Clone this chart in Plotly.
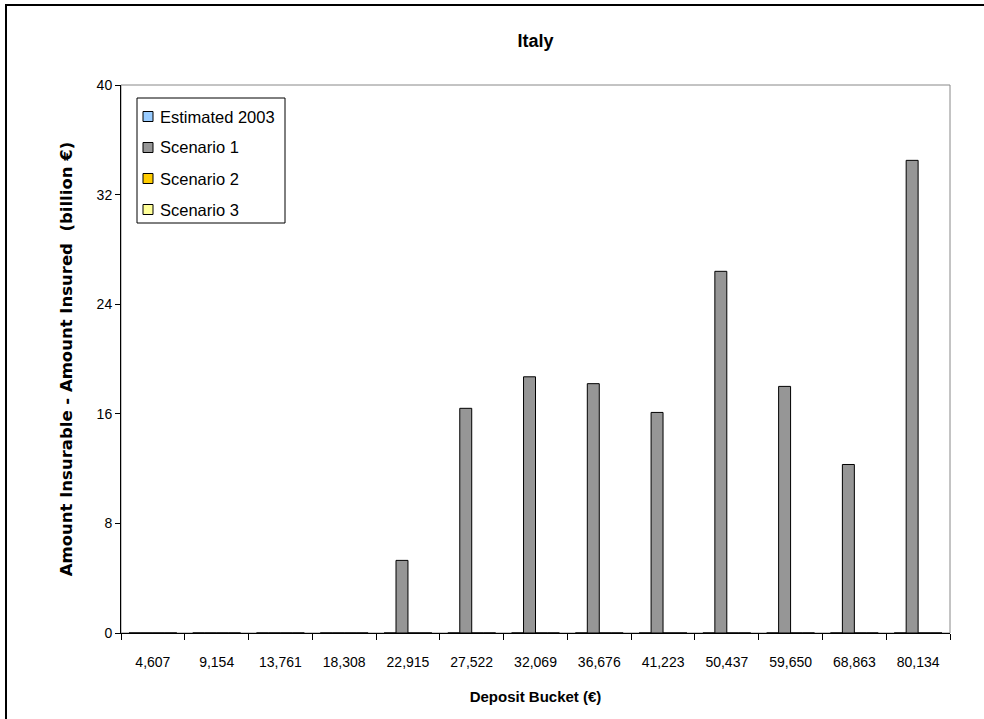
import plotly.graph_objects as go

# Deposit buckets (€) and the gap between insurable and insured amounts (billion €)
buckets = ["4,607", "9,154", "13,761", "18,308", "22,915", "27,522", "32,069",
           "36,676", "41,223", "50,437", "59,650", "68,863", "80,134"]
estimated_2003 = [0, 0, 0, 0, 0, 0, 0, 0, 0, 0, 0, 0, 0]
scenario_1 = [0, 0, 0, 0, 5.3, 16.4, 18.7, 18.2, 16.1, 26.4, 18.0, 12.3, 34.5]
scenario_2 = [0, 0, 0, 0, 0, 0, 0, 0, 0, 0, 0, 0, 0]
scenario_3 = [0, 0, 0, 0, 0, 0, 0, 0, 0, 0, 0, 0, 0]

series_names = ["Estimated 2003", "Scenario 1", "Scenario 2", "Scenario 3"]
series_values = [estimated_2003, scenario_1, scenario_2, scenario_3]
series_colors = ["#99CCFF", "#969696", "#FFCC00", "#FFFF99"]

FONT = "Liberation Sans, Arial, sans-serif"
WIDE = "DejaVu Sans, Verdana, sans-serif"

fig = go.Figure()
for name, vals, color in zip(series_names, series_values, series_colors):
    fig.add_trace(go.Bar(
        name=name, x=buckets, y=vals,
        marker=dict(color=color, line=dict(color="black", width=1)),
        showlegend=False,
    ))

W, H = 984, 719
L, R, T, B = 121, 34, 85, 86
pw, ph = W - L - R, H - T - B


def px_x(p):
    return (p - L) / pw


def px_y(p):
    return (H - B - p) / ph


shapes = [
    # grey frame of the plotting area
    dict(type="rect", xref="paper", yref="paper", x0=0, x1=1, y0=0, y1=1,
         line=dict(color="#888888", width=1), layer="below"),
    # outer chart border
    dict(type="rect", xref="paper", yref="paper",
         x0=px_x(6), x1=px_x(995), y0=px_y(730), y1=px_y(5),
         line=dict(color="black", width=2), layer="below"),
    # legend box
    dict(type="rect", xref="paper", yref="paper",
         x0=px_x(137), x1=px_x(285), y0=px_y(223), y1=px_y(98),
         line=dict(color="black", width=1), fillcolor="white", layer="above"),
]
annotations = []

# legend entries: colour swatch + series name
row_y0, row_step = 116.5, 31
for i, (name, color) in enumerate(zip(series_names, series_colors)):
    cy = row_y0 + i * row_step
    shapes.append(dict(
        type="rect", xref="paper", yref="paper",
        x0=px_x(143), x1=px_x(153), y0=px_y(cy + 5), y1=px_y(cy - 5),
        line=dict(color="black", width=1), fillcolor=color, layer="above",
    ))
    annotations.append(dict(
        text=name, xref="paper", yref="paper", x=px_x(158), y=px_y(cy),
        xanchor="left", yanchor="middle", showarrow=False,
        font=dict(size=16.5, family=FONT, color="black"),
    ))

fig.update_layout(
    width=W, height=H,
    margin=dict(l=L, r=R, t=T, b=B, pad=0),
    paper_bgcolor="white", plot_bgcolor="white",
    font=dict(family=FONT, color="black", size=14),
    barmode="group", bargap=0.25, bargroupgap=0,
    title=dict(text="<b>Italy</b>", x=0.5, xref="paper", xanchor="center",
               y=1 - 41 / H, yanchor="middle", font=dict(size=18, family=FONT)),
    showlegend=False,
    xaxis=dict(
        type="category", categoryorder="array", categoryarray=buckets,
        showline=True, linecolor="black", linewidth=1,
        ticks="outside", ticklen=6, tickcolor="black", tickson="boundaries",
        ticklabelstandoff=16,
        showgrid=False, zeroline=False,
        tickfont=dict(size=14),
        title=dict(text="<b>Deposit Bucket (€)</b>", font=dict(size=15), standoff=22),
    ),
    yaxis=dict(
        range=[0, 40], tickvals=[0, 8, 16, 24, 32, 40],
        showline=True, linecolor="black", linewidth=1,
        ticks="outside", ticklen=5, tickcolor="black",
        showgrid=False, zeroline=False,
        tickfont=dict(size=14),
        title=dict(text="<b>Amount Insurable - Amount Insured\u00a0\u00a0(billion €)</b>",
                   font=dict(size=16.5, family=WIDE), standoff=19),
    ),
    shapes=shapes,
    annotations=annotations,
)

fig.write_html("out.html")
